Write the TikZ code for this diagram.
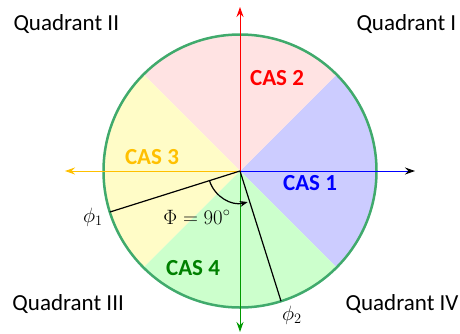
\documentclass[tikz,border=0pt]{standalone}
\usepackage{fontspec}
\setmainfont{Carlito}
\usepackage{amsmath}
\usetikzlibrary{arrows.meta}
\definecolor{borde}{RGB}{64,170,108}
\definecolor{oro}{RGB}{255,192,0}

\begin{document}
\begin{tikzpicture}[x=1pt,y=1pt,line width=1pt,>={Stealth[length=10pt,width=7pt]},
  cas/.style={font=\fontsize{23}{27}\selectfont\bfseries},
  quad/.style={font=\fontsize{23}{27}\selectfont,anchor=west,inner sep=0pt},
  ang/.style={font=\fontsize{22}{26}\selectfont}]
  \useasboundingbox (0,0) rectangle (460,333);
  \coordinate (O) at (240,162);
  % sectores
  \foreach \a/\c in {-45/blue!20,45/red!11,135/yellow!22,225/green!20}
    \fill[\c] (O) -- ++(\a:136.5) arc[start angle=\a,delta angle=90,radius=136.5] -- cycle;
  \draw[borde,line width=2.5pt] (O) circle[radius=136.5];
  % ejes
  \coordinate (E) at (415,162);
  \coordinate (W) at (65,162);
  \coordinate (N) at (240,326);
  \coordinate (S) at (240,1);
  \draw[blue,-{Stealth[length=10pt,width=7pt,black]}] (O) -- (E);
  \draw[red,->] (O) -- (N);
  \draw[oro,->] (O) -- (W);
  \draw[green!60!black,->] (O) -- (S);
  % angulos phi
  \path (O) ++(197.5:136.5) coordinate (P1);
  \path (O) ++(287.5:136.5) coordinate (P2);
  \draw[line width=1.2pt] (O) -- (P1);
  \draw[line width=1.2pt] (O) -- (P2);
  \draw[line width=1.2pt,-{Stealth[length=8pt,width=6pt]}] (O) ++(197.5:32) arc[start angle=197.5,end angle=284,radius=32];
  \node[ang] (phi1) at (93,116) {$\phi_1$};
  \node[ang] (phi2) at (292,18) {$\phi_2$};
  \node[ang] (Phi) at (197,116) {$\Phi=90^\circ$};
  % etiquetas
  \node[cas,blue] (cas1) at (310,150) {CAS 1};
  \node[cas,red] (cas2) at (277,255) {CAS 2};
  \node[cas,oro] (cas3) at (152,176) {CAS 3};
  \node[cas,green!50!black] (cas4) at (193,65) {CAS 4};
  \node[quad] (q1) at (356,309) {Quadrant I};
  \node[quad] (q2) at (13,309) {Quadrant II};
  \node[quad] (q3) at (12,29) {Quadrant III};
  \node[quad,anchor=east] (q4) at (459,29) {Quadrant IV};
\end{tikzpicture}
\end{document}
